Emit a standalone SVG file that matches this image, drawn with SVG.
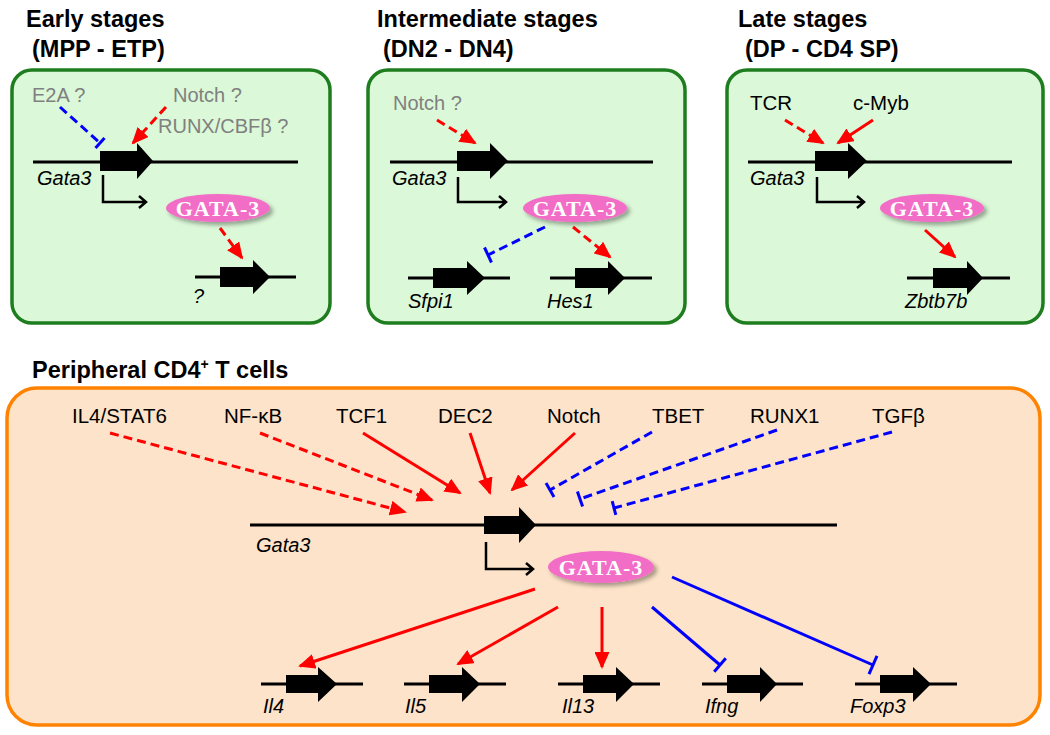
<svg xmlns="http://www.w3.org/2000/svg" width="1050" height="735" viewBox="0 0 1050 735">
<style>
text{font-family:"Liberation Sans",Arial,sans-serif;}
.title{font-size:23.5px;font-weight:bold;fill:#000;}
.gray{font-size:20px;fill:#808080;}
.lbl{font-size:20.5px;fill:#000;}
.gene{font-size:20px;font-style:italic;fill:#000;}
.gbox{fill:#dbf8d8;stroke:#1e7d1e;stroke-width:3.5;}
.obox{fill:#fde3c9;stroke:#ff8200;stroke-width:3.5;}
.dna{stroke:#000;stroke-width:3;fill:none;}
.blk{fill:#000;}
.bent{stroke:#000;stroke-width:2.5;fill:none;}
.red{stroke:#ff0000;stroke-width:3;fill:none;marker-end:url(#ah);}
.redd{stroke:#ff0000;stroke-width:3;fill:none;stroke-dasharray:9 5;marker-end:url(#ah);}
.blue{stroke:#0000ff;stroke-width:3;fill:none;}
.blued{stroke:#0000ff;stroke-width:3;fill:none;stroke-dasharray:9 5;}
.bar{stroke:#0000ff;stroke-width:3;fill:none;}
.ell{fill:#f26dc6;filter:url(#sh);}
.gt{font-family:"Liberation Serif","Times New Roman",serif;font-weight:bold;font-size:22px;letter-spacing:1px;fill:#fff;}
</style>
<defs>
<marker id="ah" markerUnits="userSpaceOnUse" markerWidth="17" markerHeight="15" viewBox="0 0 17 15" refX="15" refY="7.5" orient="auto">
<path d="M0,0 L17,7.5 L0,15 z" fill="#ff0000"/>
</marker>
<filter id="sh" x="-20%" y="-40%" width="150%" height="190%">
<feDropShadow dx="3" dy="3" stdDeviation="2" flood-color="#000" flood-opacity="0.35"/>
</filter>
</defs>

<!-- Titles -->
<text class="title" x="26" y="27">Early stages</text>
<text class="title" x="32" y="57">(MPP - ETP)</text>
<text class="title" x="377" y="27">Intermediate stages</text>
<text class="title" x="383" y="57">(DN2 - DN4)</text>
<text class="title" x="738" y="27">Late stages</text>
<text class="title" x="745" y="57">(DP - CD4 SP)</text>
<text class="title" x="32" y="378">Peripheral CD4<tspan font-size="14" dy="-9">+</tspan><tspan dy="9"> T cells</tspan></text>

<!-- Early stages -->
<g id="early">
<rect class="gbox" x="12" y="70" width="318" height="253" rx="20"/>
<text class="gray" x="32" y="102">E2A ?</text>
<text class="gray" x="173" y="102">Notch ?</text>
<text class="gray" x="158" y="133">RUNX/CBFβ ?</text>
<line class="dna" x1="33" y1="162" x2="298" y2="162"/>
<path class="blk" d="M100,151 H137 V143 L153,161 L137,179 V171 H100 Z"/>
<text class="gene" x="37" y="185">Gata3</text>
<path class="bent" d="M103,175 V202 H146 M139,196 L146,202 L139,208"/>
<ellipse class="ell" cx="218" cy="208" rx="52" ry="14"/>
<text class="gt" x="218" y="216" text-anchor="middle">GATA-3</text>
<line class="dna" x1="195" y1="277" x2="296" y2="277"/>
<path class="blk" d="M220,267 H253 V260 L270,277 L253,294 V287 H220 Z"/>
<text class="gene" x="193" y="303">?</text>
</g>

<!-- Intermediate stages -->
<g id="intermediate">
<rect class="gbox" x="368" y="70" width="317" height="253" rx="20"/>
<text class="gray" x="393" y="110">Notch ?</text>
<line class="dna" x1="390" y1="162" x2="653" y2="162"/>
<path class="blk" d="M457,151 H490 V143 L508,161 L490,179 V171 H457 Z"/>
<text class="gene" x="392" y="185">Gata3</text>
<path class="bent" d="M458,177 V202 H506 M499,196 L506,202 L499,208"/>
<ellipse class="ell" cx="575" cy="208" rx="52" ry="14"/>
<text class="gt" x="575" y="216" text-anchor="middle">GATA-3</text>
<line class="dna" x1="408" y1="278" x2="510" y2="278"/>
<path class="blk" d="M433,268 H467 V261 L485,278 L467,295 V288 H433 Z"/>
<text class="gene" x="408" y="308">Sfpi1</text>
<line class="dna" x1="550" y1="278" x2="652" y2="278"/>
<path class="blk" d="M575,268 H608 V261 L625,278 L608,295 V288 H575 Z"/>
<text class="gene" x="547" y="308">Hes1</text>
</g>

<!-- Late stages -->
<g id="late">
<rect class="gbox" x="727" y="70" width="316" height="253" rx="20"/>
<text class="lbl" x="750" y="110" font-size="20">TCR</text>
<text class="lbl" x="853" y="110" font-size="20">c-Myb</text>
<line class="dna" x1="748" y1="162" x2="1012" y2="162"/>
<path class="blk" d="M815,151 H848 V143 L867,161 L848,179 V171 H815 Z"/>
<text class="gene" x="750" y="185">Gata3</text>
<path class="bent" d="M817,177 V202 H864 M857,196 L864,202 L857,208"/>
<ellipse class="ell" cx="932" cy="208" rx="52" ry="14"/>
<text class="gt" x="932" y="216" text-anchor="middle">GATA-3</text>
<line class="dna" x1="907" y1="278" x2="1010" y2="278"/>
<path class="blk" d="M933,268 H967 V261 L983,278 L967,295 V288 H933 Z"/>
<text class="gene" x="905" y="308">Zbtb7b</text>
</g>

<!-- Peripheral -->
<g id="peripheral">
<rect class="obox" x="7" y="388" width="1033" height="337" rx="30"/>
<text class="lbl" x="72" y="423">IL4/STAT6</text>
<text class="lbl" x="224" y="423">NF-κB</text>
<text class="lbl" x="336" y="423">TCF1</text>
<text class="lbl" x="438" y="423">DEC2</text>
<text class="lbl" x="547" y="423">Notch</text>
<text class="lbl" x="652" y="423">TBET</text>
<text class="lbl" x="750" y="423">RUNX1</text>
<text class="lbl" x="872" y="423">TGFβ</text>
<line class="dna" x1="250" y1="525" x2="837" y2="525"/>
<path class="blk" d="M484,516 H519 V507 L536,525 L519,543 V534 H484 Z"/>
<text class="gene" x="256" y="552">Gata3</text>
<path class="bent" d="M486,542 V569 H533 M526,563 L533,569 L526,575"/>
<ellipse class="ell" cx="601" cy="567" rx="53" ry="16"/>
<text class="gt" x="601" y="575" text-anchor="middle">GATA-3</text>
</g>

<g id="genes">
<line class="dna" x1="261" y1="684" x2="363" y2="684"/>
<path class="blk" d="M286,675 H318 V667 L337,684 L318,702 V693 H286 Z"/>
<text class="gene" x="263" y="713">Il4</text>
<line class="dna" x1="404" y1="684" x2="506" y2="684"/>
<path class="blk" d="M429,675 H462 V667 L480,684 L462,702 V693 H429 Z"/>
<text class="gene" x="405" y="713">Il5</text>
<line class="dna" x1="558" y1="684" x2="660" y2="684"/>
<path class="blk" d="M583,675 H616 V667 L634,684 L616,702 V693 H583 Z"/>
<text class="gene" x="562" y="713">Il13</text>
<line class="dna" x1="702" y1="684" x2="803" y2="684"/>
<path class="blk" d="M727,675 H760 V667 L777,684 L760,702 V693 H727 Z"/>
<text class="gene" x="705" y="713">Ifng</text>
<line class="dna" x1="855" y1="684" x2="957" y2="684"/>
<path class="blk" d="M880,675 H913 V667 L931,684 L913,702 V693 H880 Z"/>
<text class="gene" x="850" y="713">Foxp3</text>
</g>

<!-- Connectors -->
<g id="connectors">
<!-- early -->
<line class="blued" x1="60" y1="107" x2="100" y2="143"/>
<line class="bar" x1="95.5" y1="148" x2="104.5" y2="138"/>
<line class="redd" x1="166" y1="107" x2="133" y2="143"/>
<line class="redd" x1="220" y1="228" x2="242" y2="258"/>
<!-- intermediate -->
<line class="redd" x1="437" y1="120" x2="475" y2="143"/>
<line class="blued" x1="545" y1="227" x2="488" y2="255"/>
<line class="bar" x1="491.5" y1="262.5" x2="484.5" y2="247.5"/>
<line class="redd" x1="573" y1="227" x2="610" y2="257"/>
<!-- late -->
<line class="redd" x1="785" y1="120" x2="823" y2="143"/>
<line class="red" x1="873" y1="120" x2="838" y2="143"/>
<line class="red" x1="925" y1="230" x2="955" y2="257"/>
<!-- peripheral inputs -->
<line class="redd" x1="110" y1="433" x2="405" y2="512"/>
<line class="redd" x1="260" y1="433" x2="432" y2="500"/>
<line class="red" x1="363" y1="433" x2="460" y2="493"/>
<line class="red" x1="470" y1="433" x2="490" y2="493"/>
<line class="red" x1="575" y1="433" x2="512" y2="490"/>
<line class="blued" x1="652" y1="432" x2="550" y2="490"/>
<line class="bar" x1="554" y1="497" x2="546" y2="483"/>
<line class="blued" x1="777" y1="430" x2="580" y2="499"/>
<line class="bar" x1="582.6" y1="506.5" x2="577.4" y2="491.5"/>
<line class="blued" x1="892" y1="432" x2="614" y2="508"/>
<line class="bar" x1="615.8" y1="514.8" x2="612.2" y2="501.2"/>
<!-- peripheral outputs -->
<line class="red" x1="535" y1="589" x2="300" y2="666"/>
<line class="red" x1="558" y1="607" x2="458" y2="664"/>
<line class="red" x1="602" y1="607" x2="602" y2="667"/>
<line class="blue" x1="652" y1="607" x2="720" y2="665"/>
<line class="bar" x1="714.2" y1="671.8" x2="725.8" y2="658.2"/>
<line class="blue" x1="672" y1="577" x2="873" y2="665"/>
<line class="bar" x1="869" y1="674.2" x2="877" y2="655.8"/>
</g>
</svg>
